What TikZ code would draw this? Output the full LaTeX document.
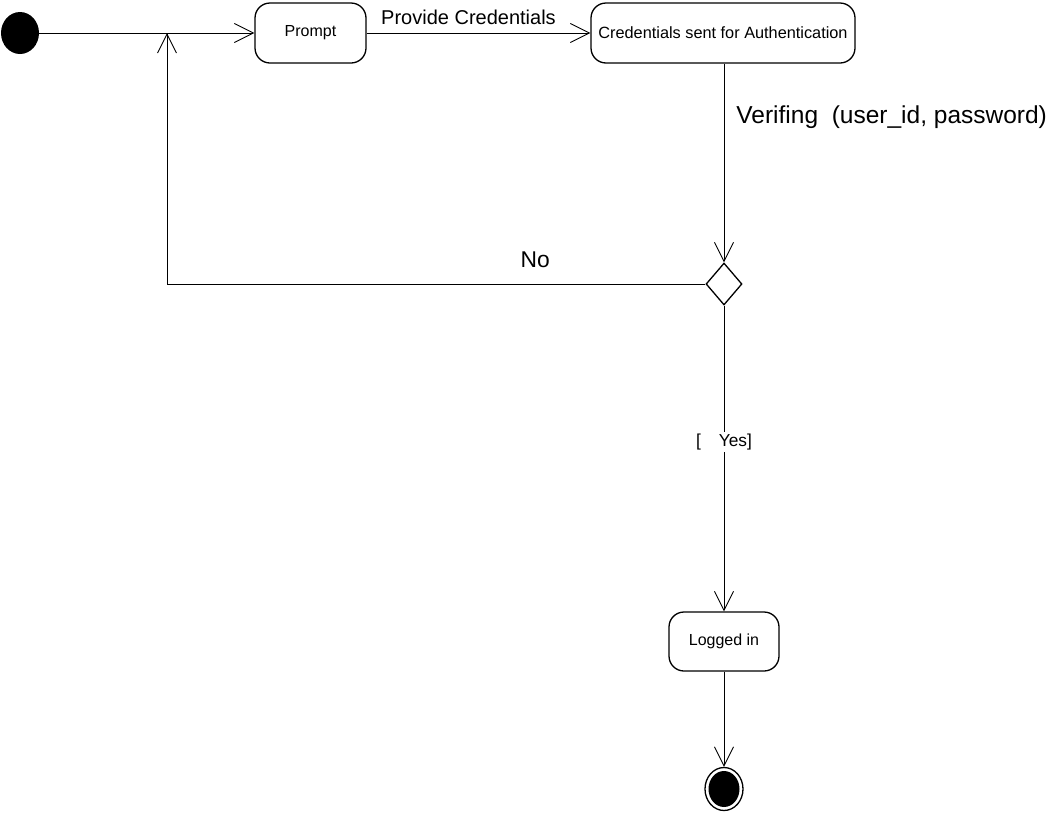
\documentclass[tikz,border=0pt]{standalone}
\usepackage{fontspec}
\setmainfont{Liberation Sans}
\usetikzlibrary{arrows.meta,shapes.geometric}
\tikzset{
  state/.style={draw, line width=1.3pt, rounded corners=15pt, fill=white,
    inner sep=0pt, minimum height=60pt, font=\fontsize{16}{18}\selectfont},
  flow/.style={line width=0.9pt, -{Straight Barb[length=19pt,width=19pt,line width=0.9pt]}},
  plain/.style={line width=0.9pt},
  lbl/.style={inner sep=1pt, font=\fontsize{20}{22}\selectfont},
}
\begin{document}
\begin{tikzpicture}[x=1pt,y=-1pt]
  \useasboundingbox (0,0) rectangle (1050,812);
  % initial state
  \node[ellipse, fill=black, minimum width=38pt, minimum height=42pt, inner sep=0pt] (init) at (20,33) {};
  % activity states
  \node[state, minimum width=111pt] (prompt) at (310.5,33) {Prompt};
  \node[state, minimum width=264pt, font=\fontsize{16.3}{18}\selectfont] (cred) at (723,33) {Credentials sent for Authentication};
  \node[draw, diamond, line width=1.3pt, minimum width=36pt, minimum height=42pt, inner sep=0pt, fill=white] (dec) at (724,284) {};
  \node[state, minimum width=110pt, minimum height=59pt] (logged) at (724,641.5) {Logged in};
  % final state
  \node[ellipse, draw, line width=1.3pt, minimum width=38pt, minimum height=43pt, inner sep=0pt] (final) at (724,789) {};
  \node[ellipse, fill=black, minimum width=31pt, minimum height=36pt, inner sep=0pt] at (final) {};
  % loop-back corner points
  \coordinate (loopbot) at (167,284);
  \coordinate (looptop) at (167,33);
  % transitions
  \draw[flow] (init.east) -- (prompt.west);
  \draw[flow] (prompt.east) -- node[lbl, above=7pt, pos=0.5, xshift=-10pt] {Provide Credentials} (cred.west);
  \draw[flow] (cred.south -| dec.north) -- node[lbl, right=11pt, pos=0.27, font=\fontsize{24.5}{27}\selectfont] {Verifing\ \ (user\_id, password)} (dec.north);
  \draw[plain] (dec.west) -- node[lbl, above=15pt, pos=0.316, font=\fontsize{22.8}{25}\selectfont] {No} (loopbot);
  \draw[flow] (loopbot) -- (looptop);
  \draw[flow] (dec.south) -- node[fill=white, inner sep=2pt, pos=0.447, font=\fontsize{17.3}{19}\selectfont] {[\hspace{18pt}Yes]} (logged.north);
  \draw[flow] (logged.south) -- (final.north);
\end{tikzpicture}
\end{document}
